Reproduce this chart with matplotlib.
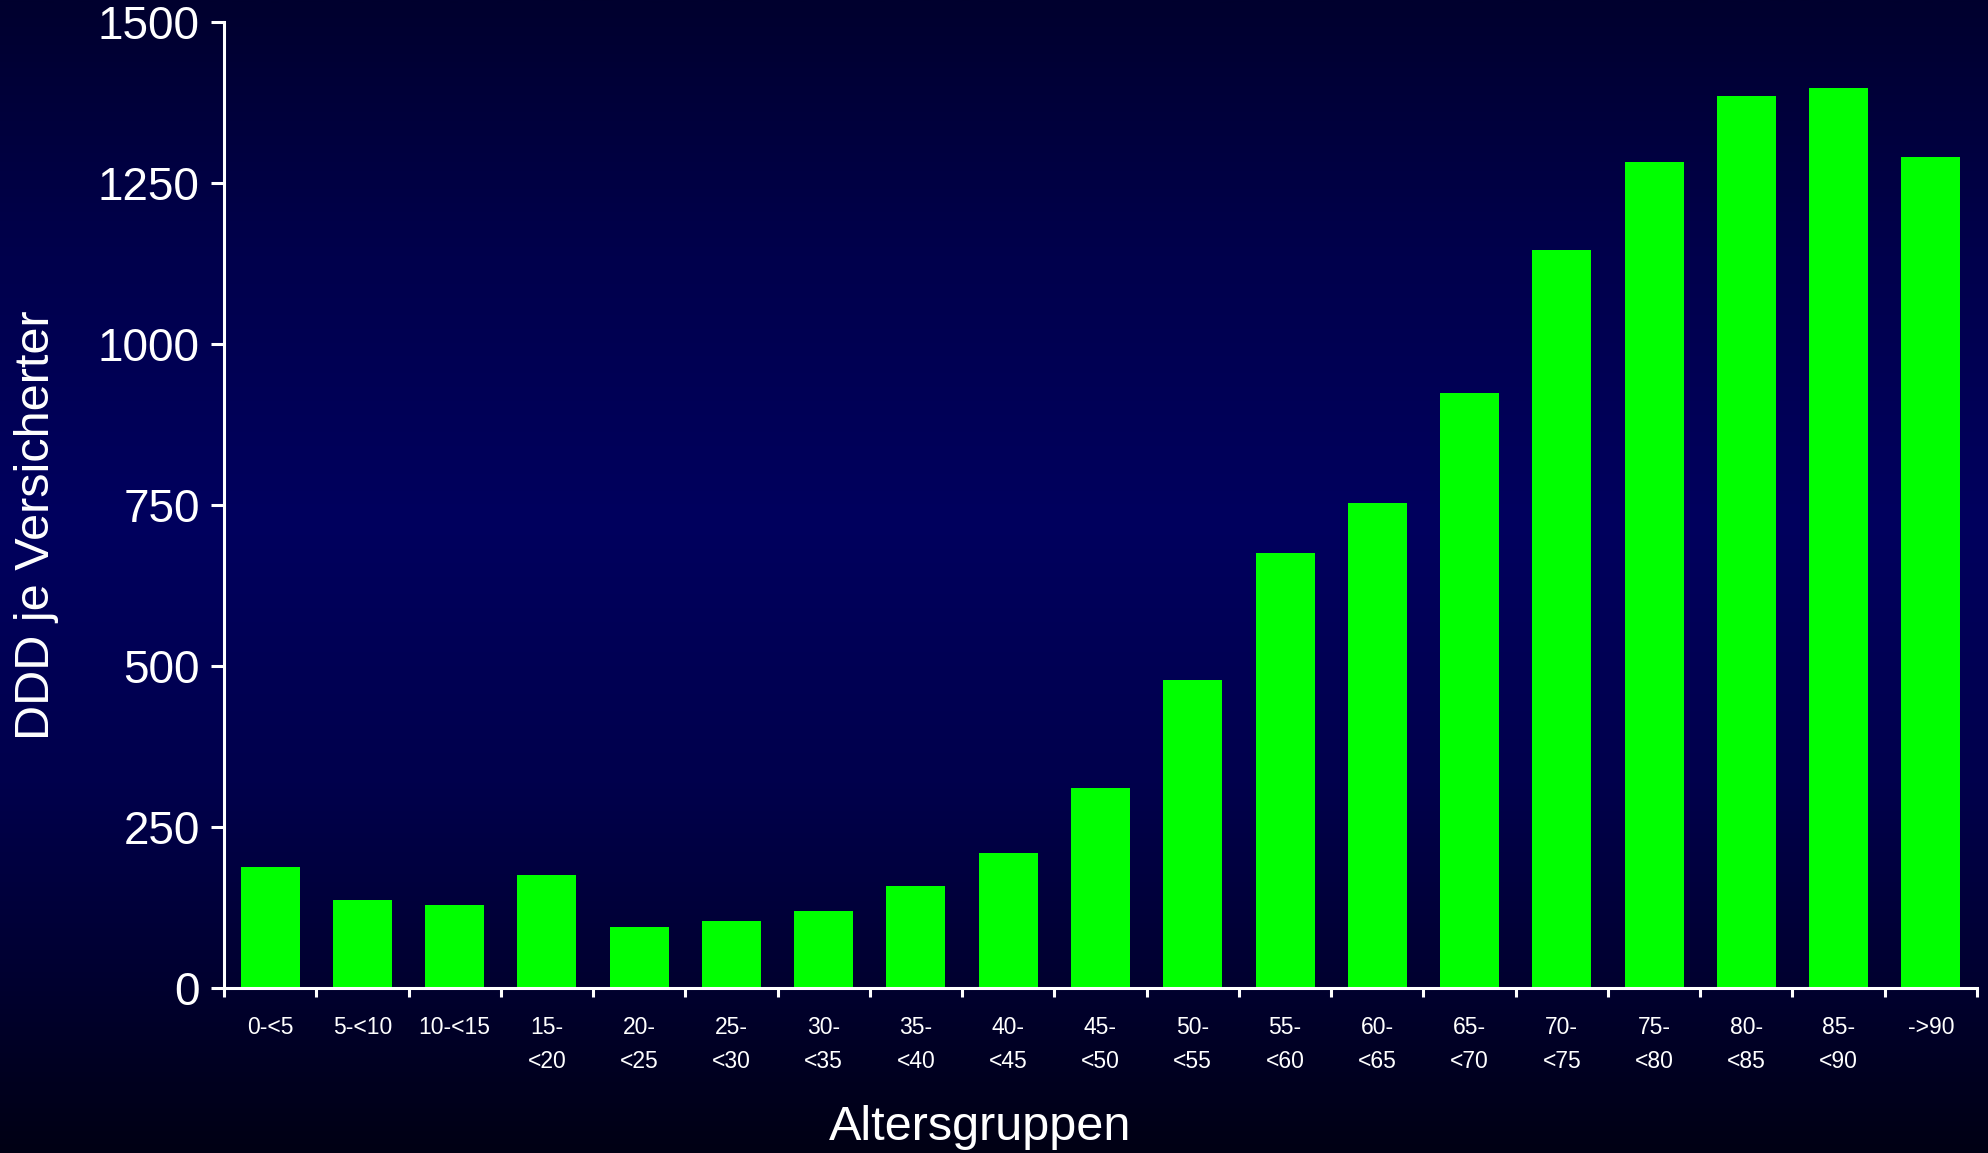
import numpy as np
import matplotlib
matplotlib.use("Agg")
import matplotlib.pyplot as plt
from matplotlib.colors import LinearSegmentedColormap

# Age groups and DDD per insured person
categories = ["0-<5", "5-<10", "10-<15", "15-\n<20", "20-\n<25", "25-\n<30",
              "30-\n<35", "35-\n<40", "40-\n<45", "45-\n<50", "50-\n<55",
              "55-\n<60", "60-\n<65", "65-\n<70", "70-\n<75", "75-\n<80",
              "80-\n<85", "85-\n<90", "->90"]
ddd_values = [188, 137, 129, 175, 95, 104, 120, 158, 209, 311, 479,
              676, 753, 924, 1146, 1282, 1385, 1397, 1290]
y_ticks = [0, 250, 500, 750, 1000, 1250, 1500]

plt.rcParams["font.family"] = ["Liberation Sans", "DejaVu Sans"]

W, H, DPI = 1988, 1153, 100
fig = plt.figure(figsize=(W / DPI, H / DPI), dpi=DPI)

# Navy vertical gradient background
bg = fig.add_axes([0, 0, 1, 1], zorder=0)
bg_cmap = LinearSegmentedColormap.from_list(
    "navy", [(0.0, "#00002e"), (0.22, "#00004c"), (0.45, "#00005e"),
             (0.68, "#00004c"), (0.85, "#000030"), (1.0, "#000014")])
grad = np.linspace(0, 1, 512).reshape(-1, 1)
bg.imshow(grad, aspect="auto", cmap=bg_cmap, extent=[0, 1, 0, 1], origin="upper")
bg.set_axis_off()

left, right = 224 / W, 1977 / W
bottom, top = 1 - 988 / H, 1 - 22 / H
ax = fig.add_axes([left, bottom, right - left, top - bottom], zorder=1)
ax.patch.set_alpha(0)

x = np.arange(len(categories))
ax.bar(x, ddd_values, width=0.64, color="#00ff00", zorder=2)

ax.set_xlim(-0.5, len(categories) - 0.5)
ax.set_ylim(0, 1500)

for side in ("top", "right"):
    ax.spines[side].set_visible(False)
for side in ("left", "bottom"):
    ax.spines[side].set_color("white")
    ax.spines[side].set_linewidth(2.2)

ax.set_yticks(y_ticks)
ax.set_yticklabels([str(v) for v in y_ticks])
ax.tick_params(axis="y", colors="white", labelsize=33, length=9.5, width=2.2, pad=8)

# Boundary ticks between bars, labels centred under bars
ax.set_xticks(np.arange(-0.5, len(categories), 1.0))
ax.set_xticklabels([])
ax.set_xticks(x, minor=True)
ax.set_xticklabels(categories, minor=True, fontsize=16.5, linespacing=1.6,
                   color="white", va="top")
ax.tick_params(axis="x", which="major", colors="white", length=6.5, width=2.2)
ax.tick_params(axis="x", which="minor", length=0, pad=20)

ax.set_xlabel("Altersgruppen", fontsize=35, color="white", va="center")
ax.xaxis.set_label_coords((980 - 224) / 1753, (988 - 1128) / 966)
ax.set_ylabel("DDD je Versicherter", fontsize=35, color="white", va="center")
ax.yaxis.set_label_coords((37 - 224) / 1753, (988 - 525) / 966)

fig.savefig("out.png", dpi=DPI)
